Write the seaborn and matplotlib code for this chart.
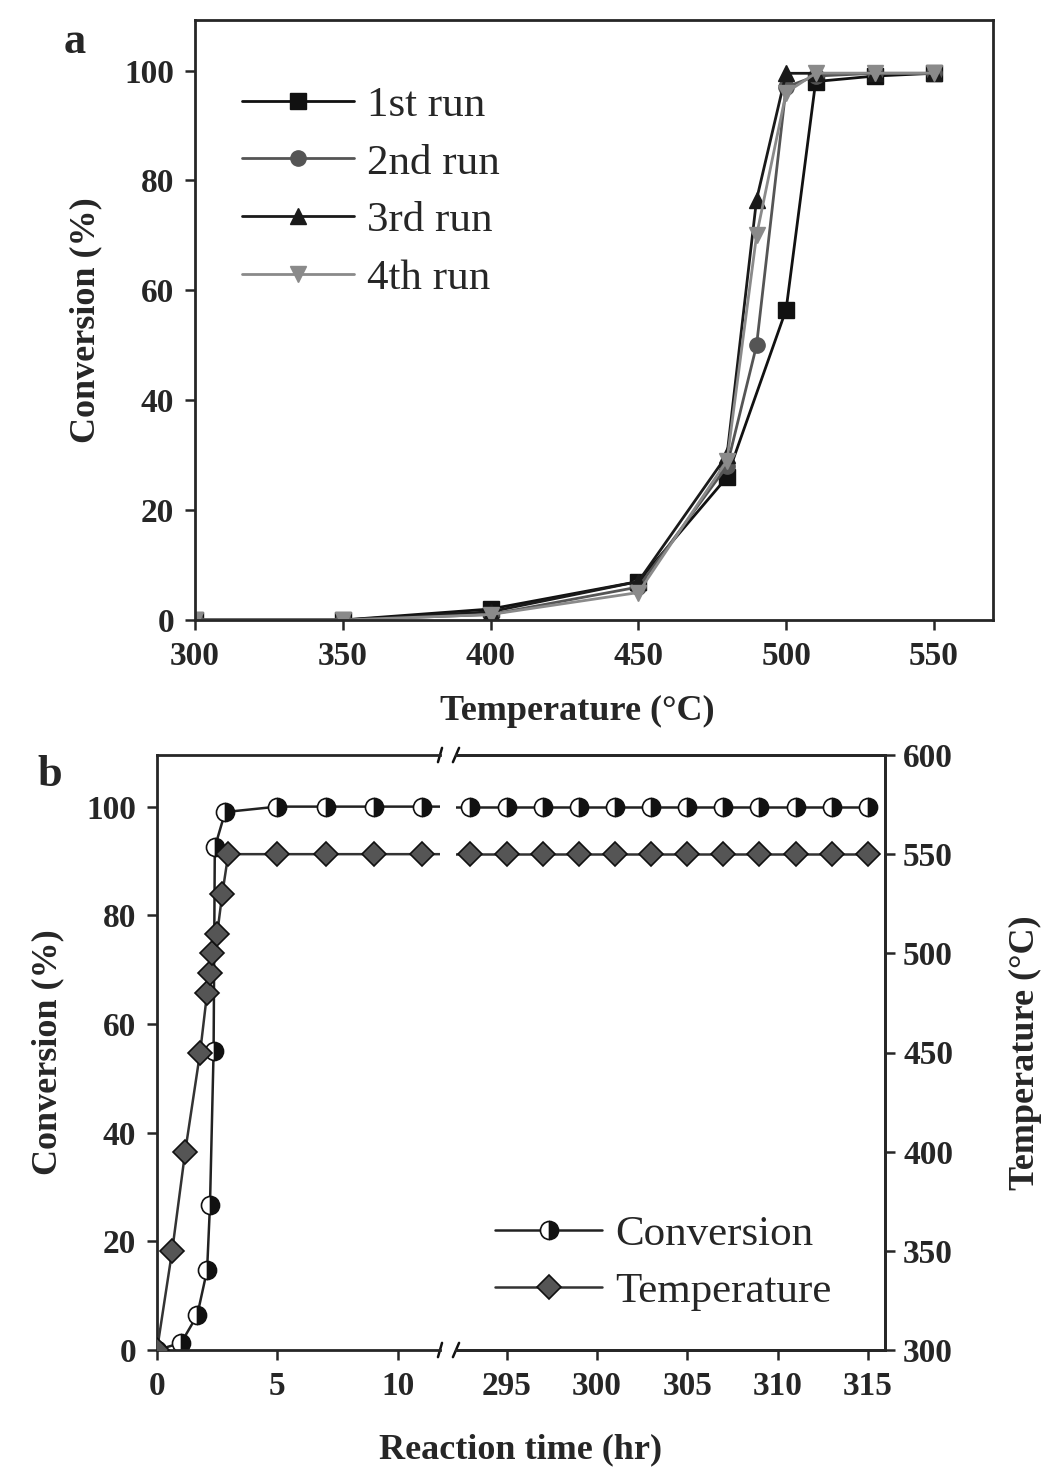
import numpy as np
import pandas as pd
import matplotlib
matplotlib.use("Agg")
import matplotlib.pyplot as plt
import seaborn as sns

# ---------------- data ----------------
# (a) conversion vs temperature for four repeated runs
run_names = ["1st run", "2nd run", "3rd run", "4th run"]
temp_run1 = [300, 350, 400, 450, 480, 500, 510, 530, 550]
conv_run1 = [0, 0, 2, 7, 26, 56.5, 98, 99, 99.5]
temp_run2 = [300, 350, 400, 450, 480, 490, 500, 510, 530, 550]
conv_run2 = [0, 0, 1, 6, 28, 50, 97, 99, 99.5, 99.5]
temp_run3 = [300, 350, 400, 450, 480, 490, 500, 510, 530, 550]
conv_run3 = [0, 0, 1.5, 7, 30, 76.5, 99.5, 99.5, 99.5, 99.5]
temp_run4 = [300, 350, 400, 450, 480, 490, 500, 510, 530, 550]
conv_run4 = [0, 0, 1, 5, 29, 70, 96, 99.5, 99.5, 99.5]

# (b) long-term stability test
time_conv = [0, 1.0, 1.67, 2.08, 2.2, 2.35, 2.4, 2.83, 5, 7, 9, 11,
             293, 295, 297, 299, 301, 303, 305, 307, 309, 311, 313, 315]
conversion = [0, 1.3, 6.4, 14.7, 26.7, 55, 92.5, 99, 100, 100, 100, 100,
              100, 100, 100, 100, 100, 100, 100, 100, 100, 100, 100, 100]
time_temp = [0, 0.63, 1.17, 1.79, 2.08, 2.21, 2.29, 2.5, 2.71, 2.96, 5, 7, 9, 11,
             293, 295, 297, 299, 301, 303, 305, 307, 309, 311, 313, 315]
temperature = [300, 350, 400, 450, 480, 490, 500, 510, 530, 550, 550, 550, 550, 550,
               550, 550, 550, 550, 550, 550, 550, 550, 550, 550, 550, 550]

left_ticks = [0, 5, 10]
right_ticks = [295, 300, 305, 310, 315]

# ---------------- style ----------------
sns.set_theme(style="ticks")
plt.rcParams["font.family"] = ["Liberation Serif", "DejaVu Serif"]
plt.rcParams["axes.linewidth"] = 2.0

TICK_FS = 24
LABEL_FS = 26
LEG_FS = 31

fig = plt.figure(figsize=(10.46, 14.78), dpi=100)
W, H = 1046, 1478


def frac(x0, y0, x1, y1):
    return [x0 / W, 1 - y1 / H, (x1 - x0) / W, (y1 - y0) / H]


def style_ticks(ax, **kw):
    ax.tick_params(direction="out", length=7, width=1.8, labelsize=TICK_FS, **kw)
    for lab in ax.get_xticklabels() + ax.get_yticklabels():
        lab.set_fontweight("bold")


# ---------------- panel a ----------------
ax_a = fig.add_axes(frac(195, 20, 993, 620))
df_a = pd.concat([
    pd.DataFrame({"Temperature": t, "Conversion": c, "Run": n})
    for t, c, n in zip([temp_run1, temp_run2, temp_run3, temp_run4],
                       [conv_run1, conv_run2, conv_run3, conv_run4], run_names)
], ignore_index=True)

run_colors = ["#111111", "#555555", "#1a1a1a", "#8a8a8a"]
sns.lineplot(data=df_a, x="Temperature", y="Conversion", hue="Run", style="Run",
             hue_order=run_names, style_order=run_names, palette=run_colors,
             markers=["s", "o", "^", "v"], dashes=False, markersize=11,
             linewidth=2.0, legend=False, sort=False, ax=ax_a)
for ln in ax_a.lines:
    ln.set_markeredgecolor(ln.get_color())
    ln.set_markeredgewidth(1.0)

ax_a.set_xlim(300, 570)
ax_a.set_ylim(0, 109.2)
ax_a.set_xticks([300, 350, 400, 450, 500, 550])
ax_a.set_yticks([0, 20, 40, 60, 80, 100])
style_ticks(ax_a, pad=8)
ax_a.set_xlabel("Temperature (°C)", fontsize=LABEL_FS, fontweight="bold")
ax_a.xaxis.set_label_coords(0.479, -0.125)
ax_a.set_ylabel("Conversion (%)", fontsize=LABEL_FS, fontweight="bold", labelpad=16)
ax_a.legend(handles=ax_a.lines[:4], labels=run_names, loc="upper left",
            bbox_to_anchor=(0.01, 0.955), frameon=False, fontsize=LEG_FS,
            handlelength=2.6, labelspacing=0.43, handletextpad=0.3)
fig.text(75 / W, 1 - 42 / H, "a", fontsize=32, fontweight="bold", ha="center", va="center")

# ---------------- panel b (broken x axis) ----------------
ax_l = fig.add_axes(frac(157, 755, 440, 1350))
ax_r = fig.add_axes(frac(456, 755, 885, 1350), sharey=ax_l)
tw_l = ax_l.twinx()
tw_r = ax_r.twinx()
tw_r.sharey(tw_l)

conv_kw = dict(marker="o", markersize=13, linewidth=1.8, color="#222222",
               fillstyle="right", markerfacecolor="#111111",
               markerfacecoloralt="white", markeredgecolor="#111111",
               markeredgewidth=1.2, sort=False)
temp_kw = dict(marker="D", markersize=12, linewidth=1.8, color="#333333",
               markerfacecolor="#555555", markeredgecolor="#111111",
               markeredgewidth=1.2, sort=False)

for ax in (ax_l, ax_r):
    sns.lineplot(x=time_conv, y=conversion, ax=ax, **conv_kw)
for ax in (tw_l, tw_r):
    sns.lineplot(x=time_temp, y=temperature, ax=ax, **temp_kw)

ax_l.set_xlim(0, 11.75)
ax_r.set_xlim(292.2, 315.95)
tw_l.set_xlim(0, 11.75)
tw_r.set_xlim(292.2, 315.95)
ax_l.set_ylim(0, 109.5)
tw_l.set_ylim(300, 600)
tw_r.set_ylim(300, 600)

ax_l.set_xticks(left_ticks)
ax_r.set_xticks(right_ticks)
ax_l.set_yticks([0, 20, 40, 60, 80, 100])
tw_r.set_yticks([300, 350, 400, 450, 500, 550, 600])

# spines / ticks for the broken layout
ax_l.spines["right"].set_visible(False)
ax_r.spines["left"].set_visible(False)
for sp in tw_l.spines.values():
    sp.set_visible(False)
tw_r.spines["left"].set_visible(False)
tw_l.tick_params(right=False, labelright=False, left=False, labelleft=False)
ax_r.tick_params(left=False, labelleft=False)
style_ticks(ax_l, pad=8)
style_ticks(ax_r, pad=8)
style_ticks(tw_r, pad=6)
tw_l.set_ylabel("")
tw_r.set_ylabel("Temperature (°C)", fontsize=LABEL_FS, fontweight="bold", labelpad=40)
ax_l.set_ylabel("Conversion (%)", fontsize=LABEL_FS, fontweight="bold", labelpad=16)
ax_r.set_ylabel("")
ax_l.set_xlabel("")
ax_r.set_xlabel("")
fig.text(521 / W, 1 - 1450 / H, "Reaction time (hr)", fontsize=LABEL_FS,
         fontweight="bold", ha="center", va="center")

# break marks on the top and bottom spines
d = 0.012
brk = dict(color="#111111", linewidth=1.8, clip_on=False)
for yy in (0, 1):
    ax_l.plot([1 - d * 0.6, 1 + d * 0.6], [yy - d, yy + d], transform=ax_l.transAxes, **brk)
    ax_r.plot([-d * 0.6, d * 0.6], [yy - d, yy + d], transform=ax_r.transAxes, **brk)

tw_r.legend(handles=[ax_r.lines[0], tw_r.lines[0]], labels=["Conversion", "Temperature"],
            loc="lower left", bbox_to_anchor=(0.0, 0.0), frameon=False,
            fontsize=LEG_FS, handlelength=2.5, labelspacing=0.43, handletextpad=0.3)
fig.text(50 / W, 1 - 775 / H, "b", fontsize=32, fontweight="bold", ha="center", va="center")

fig.savefig("out.png", dpi=100)
